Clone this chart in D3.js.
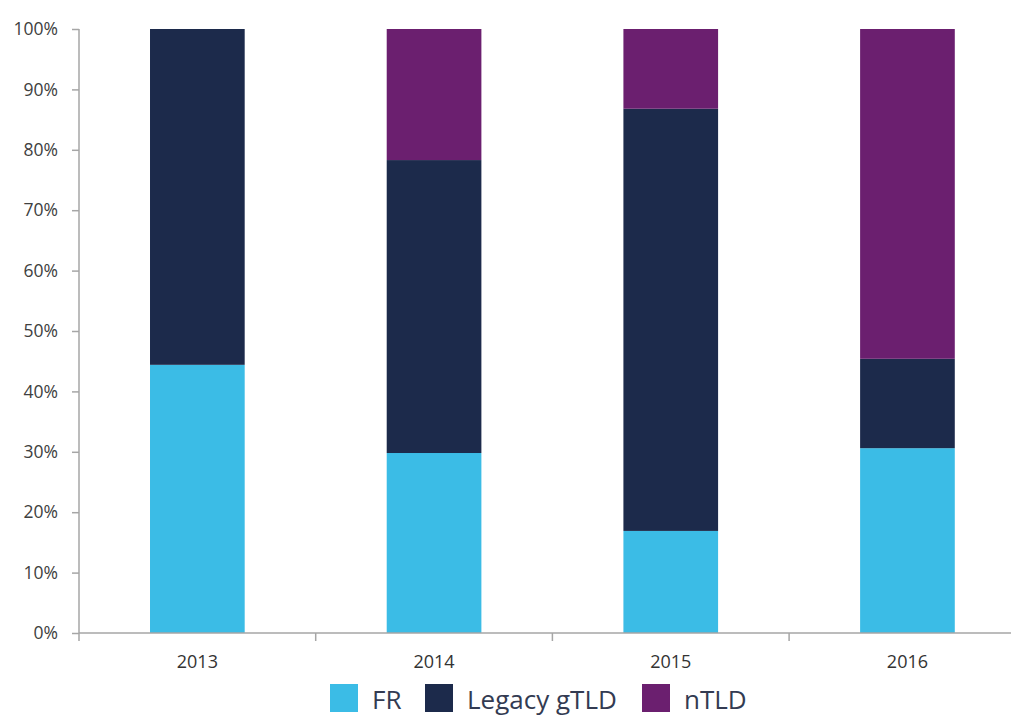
<!DOCTYPE html>
<html>
<head>
<meta charset="utf-8">
<script src="https://cdn.jsdelivr.net/npm/d3@7"></script>
<style>
  body { margin: 0; background: #fff; }
  svg text { font-family: "Open Sans", "DejaVu Sans", sans-serif; }
</style>
</head>
<body>
<svg id="chart"></svg>
<script>
// data (shares in %)
var years = ["2013", "2014", "2015", "2016"];
var seriesNames = ["FR", "Legacy gTLD", "nTLD"];
var frVals = [44.4, 29.8, 16.9, 30.6];
var legacyVals = [55.6, 48.5, 69.9, 14.8];
var ntldVals = [0, 21.7, 13.2, 54.6];
var yTicks = [0, 10, 20, 30, 40, 50, 60, 70, 80, 90, 100];
var colors = ["#3bbce6", "#1c2a4b", "#6b1f6f"];

var width = 1011, height = 716;
var margin = {top: 29, left: 79, bottom: 83};
var bandW = 236.7;

var svg = d3.select("#chart")
    .attr("width", width)
    .attr("height", height);

var rows = years.map(function(y, i) {
  return {year: y, FR: frVals[i], "Legacy gTLD": legacyVals[i], nTLD: ntldVals[i]};
});

var x = d3.scaleBand()
    .domain(years)
    .range([margin.left, margin.left + 4 * bandW])
    .paddingInner(0.6)
    .paddingOuter(0.3);

var y = d3.scaleLinear()
    .domain([0, 100])
    .range([height - margin.bottom, margin.top]);

var color = d3.scaleOrdinal().domain(seriesNames).range(colors);

var layers = d3.stack().keys(seriesNames)(rows);

// bars
svg.append("g").selectAll("g")
    .data(layers)
    .enter().append("g")
    .attr("fill", function(d) { return color(d.key); })
  .selectAll("rect")
    .data(function(d) { return d; })
    .enter().append("rect")
    .attr("x", function(d) { return x(d.data.year); })
    .attr("width", x.bandwidth())
    .attr("y", function(d) { return y(d[1]); })
    .attr("height", function(d) { return y(d[0]) - y(d[1]); });

// y axis
var yAxis = svg.append("g")
    .attr("transform", "translate(" + margin.left + ",0)")
    .call(d3.axisLeft(y).tickValues(yTicks).tickSize(7).tickPadding(14)
      .tickFormat(function(d) { return d + "%"; }));
yAxis.selectAll("text").attr("font-size", 17.5).attr("fill", "#404040");
yAxis.selectAll("line").attr("stroke", "#a6a6a6").attr("stroke-width", 1.5);
yAxis.select(".domain").attr("stroke", "#a6a6a6").attr("stroke-width", 1.5)
    .attr("d", "M0," + y(0) + "V" + y(100));

// x axis line + category ticks
var baseY = y(0);
svg.append("line")
    .attr("x1", margin.left).attr("x2", width)
    .attr("y1", baseY).attr("y2", baseY)
    .attr("stroke", "#a6a6a6").attr("stroke-width", 1.5);

svg.append("g").selectAll("line")
    .data(d3.range(0, 4))
    .enter().append("line")
    .attr("x1", function(i) { return margin.left + i * bandW; })
    .attr("x2", function(i) { return margin.left + i * bandW; })
    .attr("y1", baseY).attr("y2", baseY + 8)
    .attr("stroke", "#a6a6a6").attr("stroke-width", 1.5);

svg.append("g").selectAll("text")
    .data(years)
    .enter().append("text")
    .attr("x", function(d) { return x(d) + x.bandwidth() / 2; })
    .attr("y", baseY + 35)
    .attr("text-anchor", "middle")
    .attr("font-size", 18)
    .attr("fill", "#333")
    .text(function(d) { return d; });

// legend
var legendX = [330, 425, 642];
var lg = svg.append("g").selectAll("g")
    .data(seriesNames)
    .enter().append("g")
    .attr("transform", function(d, i) { return "translate(" + legendX[i] + ",684)"; });
lg.append("rect")
    .attr("width", 28).attr("height", 28)
    .attr("fill", function(d) { return color(d); });
lg.append("text")
    .attr("x", 42).attr("y", 25)
    .attr("font-size", 26)
    .attr("fill", "#333b52")
    .text(function(d) { return d; });
</script>
</body>
</html>
